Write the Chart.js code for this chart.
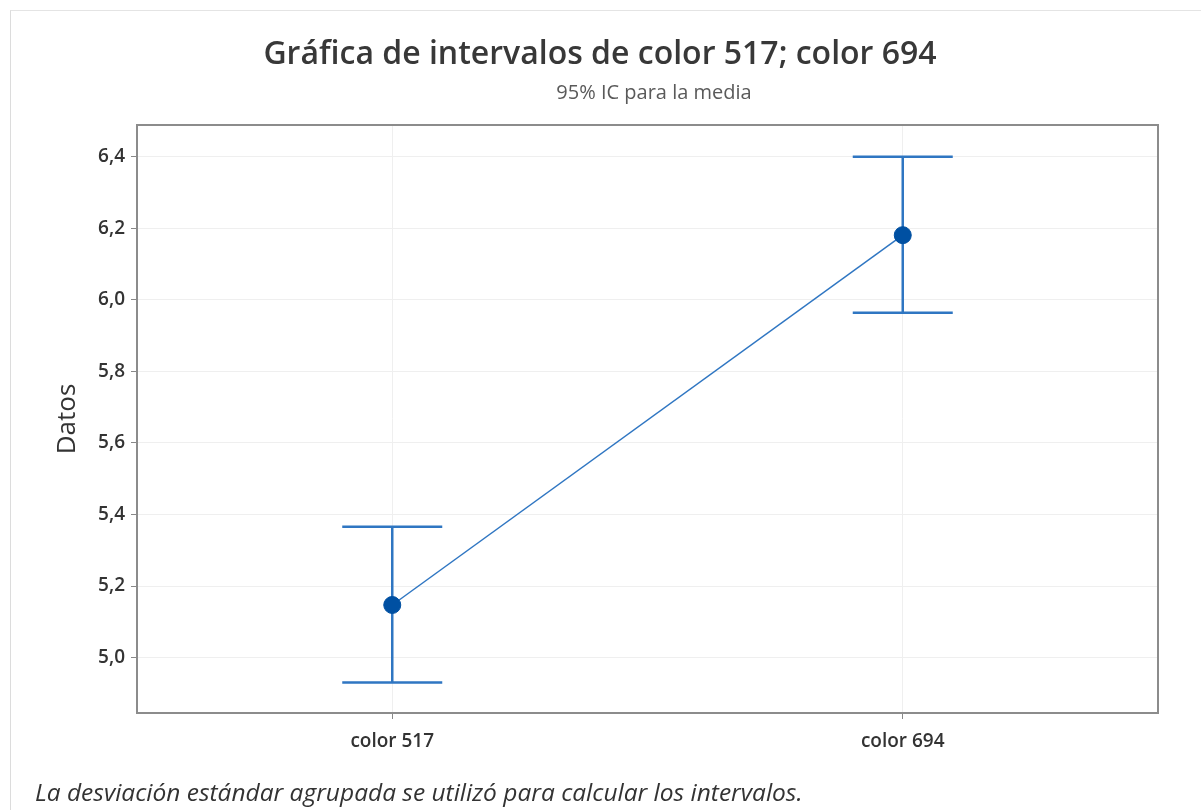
<!DOCTYPE html>
<html>
<head>
<meta charset="utf-8">
<script src="https://cdn.jsdelivr.net/npm/chart.js@4"></script>
<style>
    body { margin: 0; background: #fff; }
    #wrap { position: relative; width: 1201px; height: 810px; }
    #frame { position: absolute; left: 10px; top: 10px; right: 0; bottom: 0;
             border-left: 1px solid #dcdcdc; border-top: 1px solid #e4e4e4; }
    canvas { position: absolute; left: 0; top: 0; }
</style>
</head>
<body>
<div id="wrap">
    <div id="frame"></div>
    <canvas id="myChart" width="1201" height="810"></canvas>
</div>
<script>
// datos
const categories = ['color 517', 'color 694'];
const means = [5.147, 6.181];
const lower = [4.930, 5.964];
const upper = [5.366, 6.400];
const yTicks = [5.0, 5.2, 5.4, 5.6, 5.8, 6.0, 6.2, 6.4];

const font = '"Open Sans", "Noto Sans", sans-serif';
const blue = '#2f76c2';

/**
 * barras de error + titulos + nota
 */
const intervalPlugin = {
    id: 'intervals',
    beforeDatasetsDraw(chart) {
        const ctx = chart.ctx;
        const x = chart.scales.x;
        const y = chart.scales.y;
        ctx.save();
        ctx.strokeStyle = blue;
        ctx.lineWidth = 2.5;
        categories.forEach((c, i) => {
            const px = x.getPixelForValue(i);
            const top = y.getPixelForValue(upper[i]);
            const bot = y.getPixelForValue(lower[i]);
            ctx.beginPath();
            ctx.moveTo(px, top);
            ctx.lineTo(px, bot);
            ctx.moveTo(px - 50, top);
            ctx.lineTo(px + 50, top);
            ctx.moveTo(px - 50, bot);
            ctx.lineTo(px + 50, bot);
            ctx.stroke();
        });
        ctx.restore();
    },
    afterDraw(chart) {
        const ctx = chart.ctx;
        const a = chart.chartArea;
        ctx.save();
        // marco del area
        ctx.strokeStyle = '#8c8c8c';
        ctx.lineWidth = 2;
        ctx.strokeRect(a.left, a.top, a.right - a.left, a.bottom - a.top);

        ctx.textAlign = 'center';
        ctx.textBaseline = 'middle';
        ctx.fillStyle = '#383838';
        ctx.font = '600 32px ' + font;
        ctx.fillText('Gráfica de intervalos de color 517; color 694', 600, 55);
        ctx.fillStyle = '#5a5a5a';
        ctx.font = '20px ' + font;
        ctx.fillText('95% IC para la media', 654, 93);

        ctx.textAlign = 'left';
        ctx.fillStyle = '#333';
        ctx.font = 'italic 24.5px ' + font;
        ctx.fillText('La desviación estándar agrupada se utilizó para calcular los intervalos.', 35, 794);
        ctx.restore();
    }
};

const config = {
    type: 'line',
    data: {
        labels: categories,
        datasets: [{
            data: means,
            borderColor: blue,
            borderWidth: 1.5,
            pointRadius: 8.5,
            pointBorderWidth: 1,
            pointBackgroundColor: '#0050a2',
            pointBorderColor: '#0050a2',
            tension: 0
        }]
    },
    options: {
        responsive: false,
        animation: false,
        layout: {
            padding: { left: 50, right: 43, top: 125, bottom: 47 }
        },
        plugins: {
            legend: { display: false },
            tooltip: { enabled: false }
        },
        scales: {
            x: {
                type: 'category',
                offset: true,
                afterFit: (s) => { s.height = 50; },
                grid: {
                    color: '#efefef',
                    tickColor: '#888',
                    tickLength: 6,
                    offset: false
                },
                border: { color: '#8c8c8c', width: 2 },
                ticks: {
                    padding: 11,
                    color: '#333',
                    font: { family: font, size: 19, weight: 600 }
                }
            },
            y: {
                min: 4.845,
                max: 6.489,
                afterFit: (s) => { s.width = 87; },
                afterBuildTicks: (s) => { s.ticks = yTicks.map(v => ({ value: v })); },
                grid: {
                    color: '#efefef',
                    tickColor: '#888',
                    tickLength: 6
                },
                border: { color: '#8c8c8c', width: 2 },
                ticks: {
                    padding: 6,
                    color: '#333',
                    font: { family: font, size: 19, weight: 600 },
                    callback: (v) => v.toFixed(1).replace('.', ',')
                },
                title: {
                    display: true,
                    text: 'Datos',
                    color: '#333',
                    padding: { top: 2, bottom: 0 },
                    font: { family: font, size: 26 }
                }
            }
        }
    },
    plugins: [intervalPlugin]
};

var myChart = new Chart(document.getElementById('myChart'), config);
</script>
</body>
</html>
